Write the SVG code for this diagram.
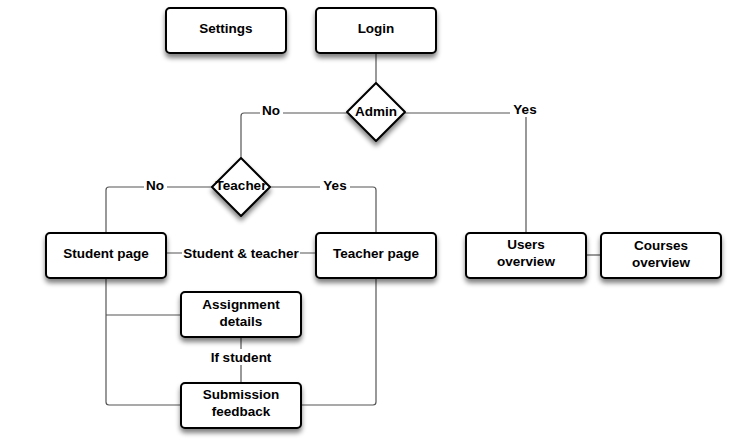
<svg xmlns="http://www.w3.org/2000/svg" width="744" height="446" viewBox="0 0 744 446">
<defs>
<filter id="sh" x="-20%" y="-20%" width="140%" height="160%">
<feGaussianBlur in="SourceAlpha" stdDeviation="2.5"/>
<feOffset dx="0" dy="4" result="b"/>
<feComponentTransfer><feFuncA type="linear" slope="0.5"/></feComponentTransfer>
<feMerge><feMergeNode/><feMergeNode in="SourceGraphic"/></feMerge>
</filter>
</defs>
<style>
.box{fill:#fff;stroke:#000;stroke-width:2;filter:url(#sh)}
.t{font-family:"Liberation Sans",Arial,sans-serif;font-weight:bold;font-size:13.5px;fill:#000;text-anchor:middle;dominant-baseline:central}
.c{fill:none;stroke:#555;stroke-width:1.2}
.lb{fill:#fff}
</style>
<rect width="744" height="446" fill="#fff"/>
<g id="connectors">
<path class="c" d="M376 53V84"/>
<path class="c" d="M347 113H244Q241 113 241 116V158"/>
<path class="c" d="M405 113H526V233"/>
<path class="c" d="M212 187H109Q106 187 106 190V233"/>
<path class="c" d="M270 187H373Q376 187 376 190V233"/>
<path class="c" d="M166 253H316"/>
<path class="c" d="M106 278V402Q106 405 109 405H181"/>
<path class="c" d="M106 315H181"/>
<path class="c" d="M376 278V402Q376 405 373 405H301"/>
<path class="c" d="M241 337V383"/>
<path class="c" d="M586 255H601"/>
<rect class="lb" x="260" y="103" width="23" height="15"/>
<text class="t" x="271" y="110">No</text>
<rect class="lb" x="510" y="102" width="30" height="15"/>
<text class="t" x="525" y="109">Yes</text>
<rect class="lb" x="144" y="178" width="23" height="15"/>
<text class="t" x="155" y="185">No</text>
<rect class="lb" x="320" y="178" width="30" height="15"/>
<text class="t" x="335" y="185">Yes</text>
<rect class="lb" x="182" y="245" width="118" height="16"/>
<text class="t" x="241" y="253">Student &amp; teacher</text>
<rect class="lb" x="207" y="349" width="68" height="16"/>
<text class="t" x="241" y="357">If student</text>
</g>
<g id="settings"><rect class="box" x="166" y="8" width="120" height="45" rx="4"/><text class="t" x="226" y="28">Settings</text></g>
<g id="login"><rect class="box" x="316" y="8" width="120" height="45" rx="4"/><text class="t" x="376" y="28">Login</text></g>
<g id="admin"><path class="box" d="M376 83L405 112L376 141L347 112Z" stroke-linejoin="round"/><text class="t" x="376" y="111">Admin</text></g>
<g id="teacher"><path class="box" d="M241 158L270 187L241 216L212 187Z" stroke-linejoin="round"/><text class="t" x="241" y="185">Teacher</text></g>
<g id="student-page"><rect class="box" x="46" y="233" width="120" height="45" rx="4"/><text class="t" x="106" y="253">Student page</text></g>
<g id="teacher-page"><rect class="box" x="316" y="233" width="120" height="45" rx="4"/><text class="t" x="376" y="253">Teacher page</text></g>
<g id="users-overview"><rect class="box" x="466" y="233" width="120" height="45" rx="4"/><text class="t" x="526" y="244">Users</text><text class="t" x="526" y="261">overview</text></g>
<g id="courses-overview"><rect class="box" x="601" y="233" width="120" height="45" rx="4"/><text class="t" x="661" y="245">Courses</text><text class="t" x="661" y="262">overview</text></g>
<g id="assignment-details"><rect class="box" x="181" y="292" width="120" height="45" rx="4"/><text class="t" x="241" y="304">Assignment</text><text class="t" x="241" y="321">details</text></g>
<g id="submission-feedback"><rect class="box" x="181" y="383" width="120" height="45" rx="4"/><text class="t" x="241" y="394">Submission</text><text class="t" x="241" y="411">feedback</text></g>
</svg>
